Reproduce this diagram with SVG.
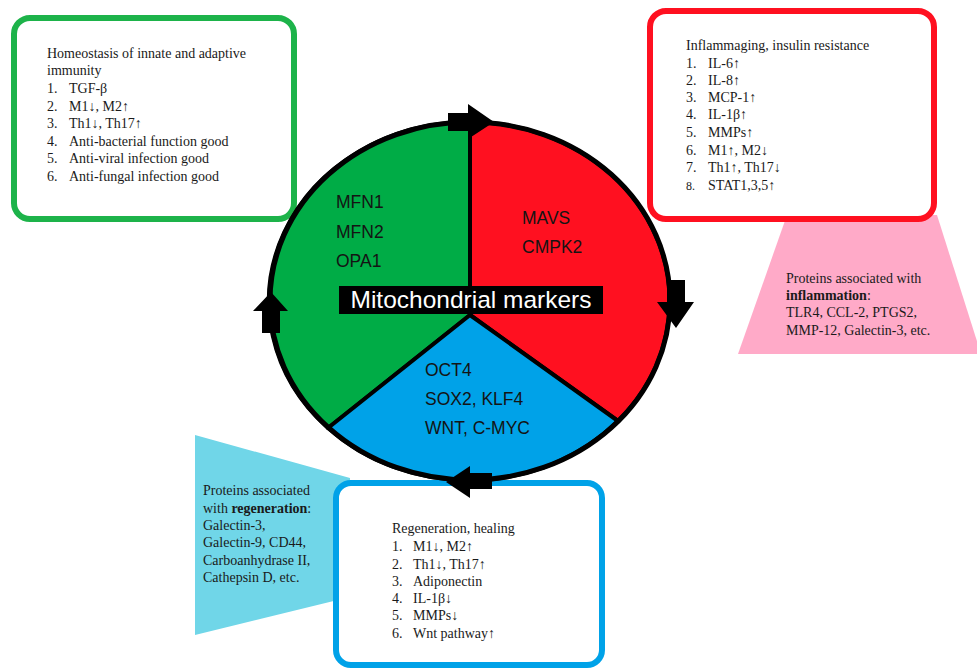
<svg xmlns="http://www.w3.org/2000/svg" width="977" height="668" viewBox="0 0 977 668">
<style>
.box{fill:#fff;stroke-width:6}
.t{font-family:"Liberation Serif","Times New Roman",serif;font-size:14px;fill:#1a1a1a}
.m{font-family:"Liberation Sans",Arial,sans-serif;font-size:17.5px;fill:#141414}
.pie{stroke:#000;stroke-width:4;stroke-linejoin:round}
</style>
<rect width="977" height="668" fill="#fff"/>
<g id="inflammation-proteins">
<polygon points="787,215 937,215 981,354 738,354" fill="#ffaac8"/>
<text class="t"><tspan x="786" y="283">Proteins associated with</tspan><tspan x="786" y="300" font-weight="bold">inflammation</tspan><tspan>:</tspan><tspan x="786" y="317">TLR4, CCL-2, PTGS2,</tspan><tspan x="786" y="335">MMP-12, Galectin-3, etc.</tspan></text>
</g>
<g id="inflammaging-box">
<rect class="box" x="650" y="11" width="284" height="208" rx="16" stroke="#ff1020"/>
<text class="t">
<tspan x="686" y="50">Inflammaging, insulin resistance</tspan>
<tspan x="686" y="68">1.</tspan><tspan x="708" y="68">IL-6↑</tspan>
<tspan x="686" y="85">2.</tspan><tspan x="708" y="85">IL-8↑</tspan>
<tspan x="686" y="102">3.</tspan><tspan x="708" y="102">MCP-1↑</tspan>
<tspan x="686" y="119">4.</tspan><tspan x="708" y="119">IL-1β↑</tspan>
<tspan x="686" y="137">5.</tspan><tspan x="708" y="137">MMPs↑</tspan>
<tspan x="686" y="155">6.</tspan><tspan x="708" y="155">M1↑, M2↓</tspan>
<tspan x="686" y="172">7.</tspan><tspan x="708" y="172">Th1↑, Th17↓</tspan>
<tspan x="686" y="190" font-size="12">8.</tspan><tspan x="708" y="190">STAT1,3,5↑</tspan>
</text>
</g>
<g id="regeneration-proteins">
<polygon points="195,435 350,478 350,597 195,635" fill="#70d6e8"/>
<text class="t"><tspan x="203" y="495">Proteins associated</tspan><tspan x="203" y="513">with </tspan><tspan font-weight="bold">regeneration</tspan><tspan>:</tspan><tspan x="203" y="530">Galectin-3,</tspan><tspan x="203" y="547">Galectin-9, CD44,</tspan><tspan x="203" y="565">Carboanhydrase II,</tspan><tspan x="203" y="582">Cathepsin D, etc.</tspan></text>
</g>
<g id="regeneration-box">
<rect class="box" x="336" y="483" width="266" height="182" rx="15" stroke="#00a2e8"/>
<text class="t">
<tspan x="392" y="533">Regeneration, healing</tspan>
<tspan x="392" y="551">1.</tspan><tspan x="413" y="551">M1↓, M2↑</tspan>
<tspan x="392" y="569">2.</tspan><tspan x="413" y="569">Th1↓, Th17↑</tspan>
<tspan x="392" y="586">3.</tspan><tspan x="413" y="586">Adiponectin</tspan>
<tspan x="392" y="603">4.</tspan><tspan x="413" y="603">IL-1β↓</tspan>
<tspan x="392" y="620">5.</tspan><tspan x="413" y="620">MMPs↓</tspan>
<tspan x="392" y="638">6.</tspan><tspan x="413" y="638">Wnt pathway↑</tspan>
</text>
</g>
<g id="homeostasis-box">
<rect class="box" x="14" y="18" width="280" height="201" rx="16" stroke="#1db34a"/>
<text class="t">
<tspan x="47" y="58">Homeostasis of innate and adaptive</tspan>
<tspan x="47" y="75">immunity</tspan>
<tspan x="47" y="93">1.</tspan><tspan x="69" y="93">TGF-β</tspan>
<tspan x="47" y="111">2.</tspan><tspan x="69" y="111">M1↓, M2↑</tspan>
<tspan x="47" y="128">3.</tspan><tspan x="69" y="128">Th1↓, Th17↑</tspan>
<tspan x="47" y="146">4.</tspan><tspan x="69" y="146">Anti-bacterial function good</tspan>
<tspan x="47" y="163">5.</tspan><tspan x="69" y="163">Anti-viral infection good</tspan>
<tspan x="47" y="181">6.</tspan><tspan x="69" y="181">Anti-fungal infection good</tspan>
</text>
</g>
<g id="green-segment">
<path class="pie" d="M470,315 L470,122 A200,179 0 0,0 328,428 Z" fill="#00ac46"/>
<text class="m"><tspan x="336" y="208">MFN1</tspan><tspan x="336" y="238">MFN2</tspan><tspan x="336" y="267">OPA1</tspan></text>
</g>
<g id="red-segment">
<path class="pie" d="M470,315 L470,122 A200,179 0 0,1 618,421 Z" fill="#ff1020"/>
<text class="m"><tspan x="522" y="224">MAVS</tspan><tspan x="522" y="253">CMPK2</tspan></text>
</g>
<g id="blue-segment">
<path class="pie" d="M470,315 L618,421 A200,179 0 0,1 328,428 Z" fill="#00a2e8"/>
<text class="m"><tspan x="425" y="376">OCT4</tspan><tspan x="425" y="405">SOX2, KLF4</tspan><tspan x="425" y="434">WNT, C-MYC</tspan></text>
</g>
<g id="connectors">
<ellipse cx="470" cy="301" rx="200" ry="179" fill="none" stroke="#000" stroke-width="5"/>
<polygon points="448,113 468,113 468,104 494,122 468,139 468,131 448,131" fill="#000"/>
<polygon points="667,280 685,280 685,302 694,302 676,328 657,302 667,302" fill="#000"/>
<polygon points="492,473 492,489 470,489 470,498 446,482 470,466 470,473" fill="#000"/>
<polygon points="262,333 280,333 280,311 288,311 271,292 253,311 262,311" fill="#000"/>
</g>
<g id="title">
<rect x="339" y="286" width="264" height="28" fill="#000"/>
<text x="471" y="308" text-anchor="middle" font-family="Liberation Sans, Arial, sans-serif" font-size="24.5" fill="#fff">Mitochondrial markers</text>
</g>
</svg>
